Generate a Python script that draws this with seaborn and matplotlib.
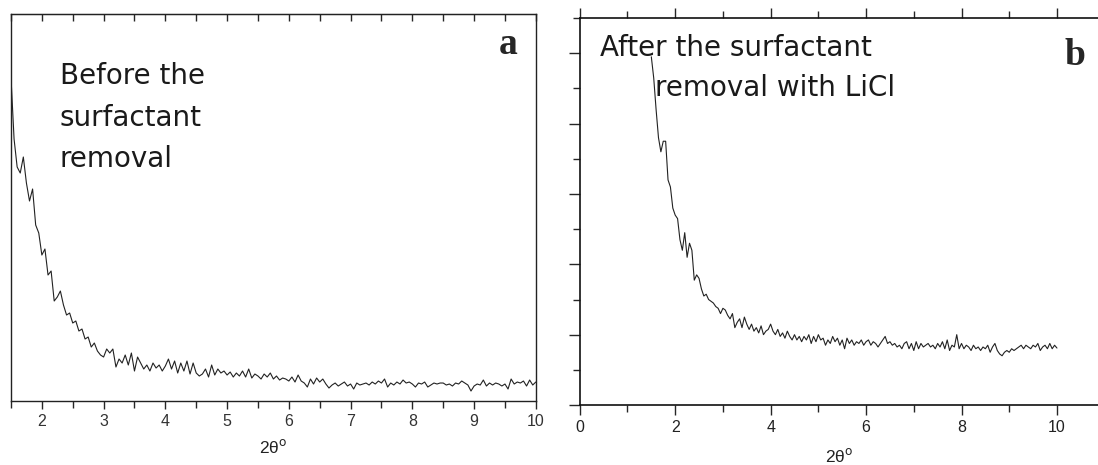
import numpy as np
import matplotlib
matplotlib.use("Agg")
import matplotlib.pyplot as plt
import seaborn as sns
from matplotlib.ticker import MultipleLocator, NullFormatter

# panel a: before surfactant removal (arbitrary intensity)
two_theta_a_start, two_theta_a_end = 1.5, 10.0
intensity_a = [
    324, 262, 234, 228, 244, 218, 200, 212, 176, 168,
    146, 152, 126, 130, 100, 104, 110, 96, 86, 88,
    78, 80, 70, 72, 62, 64, 54, 58, 50, 46,
    44, 52, 48, 52, 34, 42, 38, 46, 36, 48,
    30, 44, 38, 32, 36, 30, 38, 33, 36, 30,
    35, 42, 32, 40, 28, 38, 30, 40, 27, 38,
    28, 25, 27, 32, 24, 36, 26, 32, 28, 30,
    26, 29, 24, 28, 25, 30, 24, 32, 23, 27,
    25, 22, 27, 24, 28, 22, 25, 21, 23, 22,
    20, 24, 19, 26, 20, 18, 14, 22, 17, 23,
    19, 22, 17, 13, 16, 18, 15, 17, 19, 15,
    17, 12, 18, 16, 17, 18, 16, 19, 17, 20,
    18, 22, 14, 18, 16, 19, 17, 21, 18, 19,
    17, 14, 18, 17, 19, 14, 16, 18, 17, 18,
    18, 16, 17, 15, 18, 17, 20, 18, 16, 10,
    15, 17, 16, 21, 15, 18, 16, 18, 17, 15,
    17, 12, 22, 17, 19, 18, 20, 15, 21, 16,
    19,
]

# panel b: after surfactant removal with LiCl
two_theta_b_start, two_theta_b_end = 1.5, 10.0
intensity_b = [
    9.9, 9.3, 8.4, 7.6, 7.2, 7.5, 7.5, 6.4, 6.2, 5.6,
    5.4, 5.3, 4.7, 4.4, 4.9, 4.2, 4.6, 4.4, 3.55, 3.7,
    3.6, 3.3, 3.1, 3.15, 3.0, 2.95, 2.9, 2.8, 2.75, 2.6,
    2.75, 2.7, 2.55, 2.45, 2.6, 2.2, 2.35, 2.45, 2.2, 2.5,
    2.3, 2.15, 2.3, 2.1, 2.2, 2.05, 2.25, 2.0, 2.1, 2.15,
    2.3, 2.1, 2.0, 2.15, 1.95, 2.05, 1.9, 2.1, 1.95, 1.85,
    2.0, 1.85, 1.95, 1.8, 1.95, 1.85, 2.0, 1.75, 1.95, 1.8,
    2.0, 1.85, 1.9, 1.7, 1.85, 1.75, 1.95, 1.8, 1.9, 1.7,
    1.85, 1.6, 1.9, 1.75, 1.85, 1.7, 1.8, 1.75, 1.85, 1.7,
    1.8, 1.85, 1.7, 1.8, 1.75, 1.65, 1.75, 1.85, 1.95, 1.75,
    1.8, 1.7, 1.75, 1.65, 1.7, 1.6, 1.75, 1.8, 1.6, 1.75,
    1.55, 1.8, 1.6, 1.75, 1.65, 1.7, 1.75, 1.65, 1.7, 1.6,
    1.75, 1.65, 1.8, 1.6, 1.85, 1.55, 1.7, 1.65, 2.0, 1.6,
    1.75, 1.6, 1.7, 1.65, 1.55, 1.7, 1.6, 1.65, 1.55, 1.65,
    1.6, 1.7, 1.5, 1.65, 1.75, 1.55, 1.45, 1.4, 1.5, 1.55,
    1.5, 1.6, 1.55, 1.6, 1.65, 1.7, 1.6, 1.7, 1.65, 1.6,
    1.7, 1.65, 1.75, 1.55, 1.65, 1.7, 1.6, 1.75, 1.6, 1.7,
    1.62,
]

x_a = np.linspace(two_theta_a_start, two_theta_a_end, len(intensity_a))
x_b = np.linspace(two_theta_b_start, two_theta_b_end, len(intensity_b))

sns.set_style("ticks")
plt.rcParams['font.family'] = ['Liberation Sans', 'DejaVu Sans']

fig = plt.figure(figsize=(10.98, 4.65), dpi=100)
ax_a = fig.add_axes([0.010, 0.1376, 0.478, 0.8323])
ax_b = fig.add_axes([0.528, 0.129, 0.472, 0.832])

# ---- panel a
sns.lineplot(x=x_a, y=intensity_a, ax=ax_a, color='#222222', linewidth=0.8)
ax_a.set_xlim(1.5, 10)
ax_a.set_ylim(0, 387)
ax_a.xaxis.set_major_locator(MultipleLocator(1))
ax_a.xaxis.set_minor_locator(MultipleLocator(0.5))
ax_a.set_yticks([])
ax_a.tick_params(axis='x', which='both', top=False, direction='out', length=5,
                 width=1, labelsize=11.5, labelcolor='#333333')
ax_a.tick_params(axis='x', which='major', length=6)
# inward ticks along the top edge
top_a = ax_a.secondary_xaxis('top')
top_a.xaxis.set_major_locator(MultipleLocator(0.5))
top_a.tick_params(direction='in', length=5, width=1, labeltop=False)
top_a.spines['top'].set_color('#222222')
for sp in ax_a.spines.values():
    sp.set_visible(True)
    sp.set_linewidth(1.0)
    sp.set_color('#222222')
ax_a.set_xlabel('2θ$^{\\mathrm{o}}$', fontsize=12.5, labelpad=6, color='#222222')
ax_a.text(0.093, 0.875, 'Before the\nsurfactant\nremoval', transform=ax_a.transAxes,
          fontsize=20, family='DejaVu Sans', va='top', ha='left', linespacing=1.6,
          color='#1a1a1a')
ax_a.text(0.947, 0.92, 'a', transform=ax_a.transAxes, fontsize=27,
          family='Liberation Serif', weight='bold', ha='center', va='center')

# ---- panel b
sns.lineplot(x=x_b, y=intensity_b, ax=ax_b, color='#222222', linewidth=0.8)
ax_b.set_xlim(0, 10.86)
ax_b.set_ylim(0, 11)
ax_b.xaxis.set_major_locator(MultipleLocator(2))
ax_b.xaxis.set_minor_locator(MultipleLocator(1))
ax_b.yaxis.set_major_locator(MultipleLocator(2))
ax_b.yaxis.set_minor_locator(MultipleLocator(1))
ax_b.yaxis.set_major_formatter(NullFormatter())
ax_b.tick_params(axis='x', which='both', top=True, direction='out', width=1,
                 labelsize=11.5, labelcolor='#222222')
ax_b.tick_params(axis='x', which='major', length=7)
ax_b.tick_params(axis='x', which='minor', length=5)
ax_b.tick_params(axis='y', which='major', direction='out', length=8, width=1)
ax_b.tick_params(axis='y', which='minor', direction='out', length=5, width=1)
ax_b.spines['right'].set_visible(False)
for side in ['left', 'top', 'bottom']:
    ax_b.spines[side].set_linewidth(1.2)
    ax_b.spines[side].set_color('#111111')
ax_b.set_xlabel('2θ$^{\\mathrm{o}}$', fontsize=12.5, labelpad=9, color='#222222')
ax_b.text(0.039, 0.922, 'After the surfactant', transform=ax_b.transAxes,
          fontsize=20, family='DejaVu Sans', va='center', ha='left', color='#1a1a1a')
ax_b.text(0.145, 0.819, 'removal with LiCl', transform=ax_b.transAxes,
          fontsize=20, family='DejaVu Sans', va='center', ha='left', color='#1a1a1a')
ax_b.text(0.956, 0.904, 'b', transform=ax_b.transAxes, fontsize=27,
          family='Liberation Serif', weight='bold', ha='center', va='center')

fig.savefig('out.png', dpi=100)
